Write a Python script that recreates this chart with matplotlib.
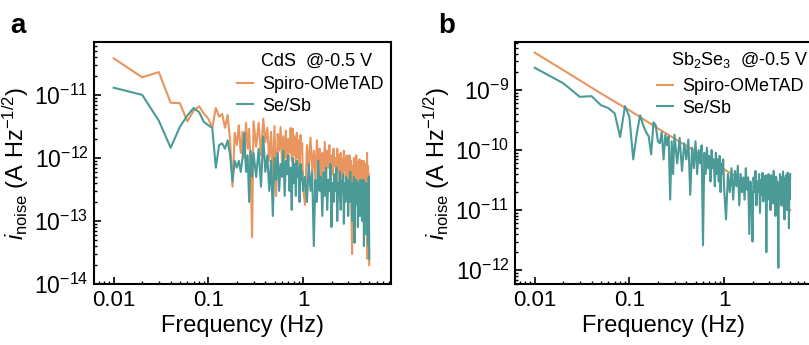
import numpy as np
import matplotlib
matplotlib.use("Agg")
import matplotlib.pyplot as plt
from matplotlib.ticker import LogLocator, NullFormatter, FixedLocator, FixedFormatter, LogFormatterMathtext

plt.rcParams['font.family'] = ['Liberation Sans', 'DejaVu Sans']
plt.rcParams['mathtext.fontset'] = 'custom'
plt.rcParams['mathtext.rm'] = 'Liberation Sans'
plt.rcParams['mathtext.it'] = 'Liberation Sans:italic'
plt.rcParams['mathtext.bf'] = 'Liberation Sans:bold'

# sampling frequencies (Hz): 0.01 step up to 0.3, 0.02 step up to 1, 0.05 step up to 5
freq = np.concatenate([np.arange(1, 31) * 0.01,
                       np.arange(16, 51) * 0.02,
                       np.arange(21, 101) * 0.05])

# panel a, CdS @-0.5 V, values in 1e-12 A Hz^-1/2
cds_spiro = [
    38, 19, 23, 7.5, 7.4, 3.8, 5.6, 6.6, 5.0, 4.2,
    3.0, 6.2, 4.5, 5.0, 3.0, 4.8, 1.8, 0.35, 2.5, 1.6,
    3.3, 1.2, 2.6, 1.0, 3.6, 1.4, 2.9, 0.6, 0.055, 3.8,
    1.5, 3.6, 1.1, 4.2, 1.8, 3.0, 0.9, 2.6, 0.45, 3.2,
    0.25, 2.4, 1.3, 3.1, 0.8, 2.2, 1.0, 2.7, 0.6, 2.0,
    1.2, 3.0, 0.9, 2.9, 1.1, 2.2, 0.7, 2.5, 1.0, 1.9,
    0.5, 2.3, 1.2, 1.7, 0.35,
    0.18, 1.6, 0.7, 2.1, 0.6, 1.3, 0.45, 1.9, 0.8, 1.4,
    0.35, 1.2, 0.65, 1.8, 0.5, 1.3, 0.7, 1.6, 0.3, 1.1,
    0.55, 1.4, 0.75, 1.0, 0.4, 1.4, 0.6, 1.1, 0.2, 1.2,
    0.5, 0.95, 0.45, 1.3, 0.65, 1.0, 0.25, 1.1, 0.55, 0.8,
    0.4, 1.1, 0.5, 0.9, 0.12, 0.03, 0.75, 0.45, 1.0, 0.3,
    0.8, 0.5, 1.1, 0.35, 0.85, 0.2, 0.75, 0.4, 0.95, 0.3,
    0.65, 0.45, 0.9, 0.25, 0.7, 0.4, 0.9, 0.35, 0.6, 0.12,
    0.8, 0.45, 0.7, 0.3, 1.2, 0.025, 0.75, 0.4, 0.55, 0.02,
]
cds_sesb = [
    13, 10, 3.9, 1.45, 3.1, 4.7, 6.2, 5.3, 3.7, 3.3,
    3.0, 0.7, 1.6, 1.7, 1.4, 1.9, 1.1, 0.42, 0.9, 0.7,
    0.9, 0.6, 1.0, 2.5, 0.6, 1.1, 0.2, 1.3, 0.5, 1.2,
    0.5, 1.4, 0.35, 2.2, 0.6, 1.1, 0.3, 0.9, 0.12, 1.0,
    0.45, 1.2, 0.3, 0.8, 0.5, 1.3, 0.25, 0.9, 0.55, 1.1,
    0.3, 0.7, 0.15, 1.0, 0.4, 0.8, 0.25, 0.9, 0.5, 0.7,
    0.2, 0.8, 0.45, 0.6, 0.3,
    0.5, 0.2, 0.8, 0.3, 0.6, 0.04, 0.45, 0.2, 0.9, 0.3,
    0.5, 0.12, 0.6, 0.25, 0.7, 0.15, 0.45, 0.3, 0.8, 0.08,
    0.4, 0.2, 0.55, 0.3, 0.7, 0.1, 0.4, 0.25, 0.6, 0.15,
    0.45, 0.3, 0.55, 0.09, 0.4, 0.2, 0.5, 0.3, 0.45, 0.12,
    0.35, 0.2, 0.6, 0.25, 0.4, 0.1, 0.35, 0.2, 0.5, 0.045,
    0.3, 0.18, 0.45, 0.25, 0.35, 0.08, 0.4, 0.2, 0.3, 0.12,
    0.45, 0.2, 0.35, 0.1, 0.3, 0.22, 0.45, 0.04, 0.3, 0.15,
    0.35, 0.2, 0.4, 0.06, 0.3, 0.15, 0.35, 0.04, 0.5, 0.025,
]

# panel b, Sb2Se3 @-0.5 V, values in 1e-11 A Hz^-1/2
sb_spiro_freq = [0.01, 0.02, 0.05, 0.1, 0.2, 0.5, 1, 2, 5]
sb_spiro = [420, 215, 88, 46, 23, 9.5, 4.8, 2.4, 1.0]
sb_sesb = [
    235, 130, 77, 79, 56, 50, 41, 16.5, 54, 36,
    7, 19, 38, 26, 20, 17, 8.5, 29, 26, 14,
    13, 20, 7, 18, 12, 17, 1.5, 14, 4, 18,
    6, 16, 4.5, 13, 7, 15, 1.8, 11, 5, 14,
    4, 10, 6, 12, 0.26, 9, 4, 11, 5, 8,
    3, 10, 5, 7, 2.5, 9, 4, 7, 3, 8,
    2, 6, 4, 7, 2.5,
    0.7, 4, 2, 5, 1.5, 4.5, 2.5, 5.5, 1.2, 4,
    2, 3.5, 1.5, 5, 2.2, 3.5, 0.4, 3, 1.8, 0.3,
    3.5, 2, 4.5, 1.2, 3, 2, 4, 0.9, 3.2, 1.8,
    4.2, 1.4, 3, 2.2, 3.8, 0.2, 2.8, 1.5, 4, 2,
    3.4, 1, 3.8, 2, 3, 1.3, 4.5, 1.8, 3.2, 0.8,
    3.6, 2.2, 3, 1.5, 0.11, 2.8, 1.6, 4, 2, 3.2,
    1.2, 3.6, 2.2, 4.4, 1.4, 3, 0.7, 3.4, 2, 3.8,
    1.6, 3, 1, 4.2, 2.2, 3.5, 0.5, 3, 1.5, 4,
]

labels = ["Spiro-OMeTAD", "Se/Sb"]
orange = "#E8955F"
teal = "#4A9A97"

W, H = 809, 345
fig = plt.figure(figsize=(W / 100, H / 100), dpi=100)


def style_axes(ax, ylim, decades):
    ax.set_xscale("log")
    ax.set_yscale("log")
    ax.set_xlim(0.0062, 8.5)
    ax.set_ylim(*ylim)
    ax.xaxis.set_major_locator(FixedLocator([0.01, 0.1, 1]))
    ax.xaxis.set_major_formatter(FixedFormatter(["0.01", "0.1", "1"]))
    ax.xaxis.set_minor_locator(LogLocator(base=10, subs=np.arange(2, 10), numticks=20))
    ax.xaxis.set_minor_formatter(NullFormatter())
    ax.yaxis.set_major_locator(FixedLocator(decades))
    ax.yaxis.set_major_formatter(LogFormatterMathtext())
    ax.yaxis.set_minor_locator(LogLocator(base=10, subs=np.arange(2, 10), numticks=20))
    ax.yaxis.set_minor_formatter(NullFormatter())
    ax.tick_params(which="both", direction="in", top=False, right=False,
                   labelsize=16, width=1.2)
    ax.tick_params(axis="y", labelsize=16.5)
    ax.tick_params(which="major", length=5, pad=4)
    ax.tick_params(which="minor", length=2.5, width=1)
    for s in ax.spines.values():
        s.set_linewidth(1.5)
    ax.set_xlabel("Frequency (Hz)", fontsize=17, labelpad=3)
    ax.set_ylabel(r"$i_{\mathrm{noise}}$ (A Hz$^{\mathrm{-1/2}}$)", fontsize=17, labelpad=2)


# panel a
ax1 = fig.add_axes([94 / W, 61 / H, 297 / W, 242 / H])
ax1.plot(freq, np.array(cds_spiro) * 1e-12, color=orange, lw=1.5, label=labels[0])
ax1.plot(freq, np.array(cds_sesb) * 1e-12, color=teal, lw=1.5, label=labels[1])
style_axes(ax1, (1e-14, 6.9e-11), [1e-14, 1e-13, 1e-12, 1e-11])
ax1.text(0.562, 0.922, "CdS  @-0.5 V", transform=ax1.transAxes, fontsize=13,
         va="center", ha="left")
ax1.legend(loc="upper left", bbox_to_anchor=(0.481, 0.859), frameon=False, fontsize=13,
           handlelength=0.9, handletextpad=0.5, labelspacing=0.25, borderpad=0,
           borderaxespad=0)

# panel b
ax2 = fig.add_axes([515 / W, 61 / H, 297 / W, 242 / H])
ax2.plot(sb_spiro_freq, np.array(sb_spiro) * 1e-11, color=orange, lw=1.5, label=labels[0])
ax2.plot(freq, np.array(sb_sesb) * 1e-11, color=teal, lw=1.5, label=labels[1])
style_axes(ax2, (5.9e-13, 6.3e-9), [1e-12, 1e-11, 1e-10, 1e-9])
ax2.text(0.525, 0.924, r"Sb$_2$Se$_3$  @-0.5 V", transform=ax2.transAxes, fontsize=13,
         va="center", ha="left")
ax2.legend(loc="upper left", bbox_to_anchor=(0.478, 0.85), frameon=False, fontsize=13,
           handlelength=0.9, handletextpad=0.5, labelspacing=0.25, borderpad=0,
           borderaxespad=0)

fig.text(10 / W, 1 - 33 / H, "a", fontsize=20, fontweight="bold")
fig.text(438 / W, 1 - 33 / H, "b", fontsize=20, fontweight="bold")

fig.savefig("out.png", dpi=100)
